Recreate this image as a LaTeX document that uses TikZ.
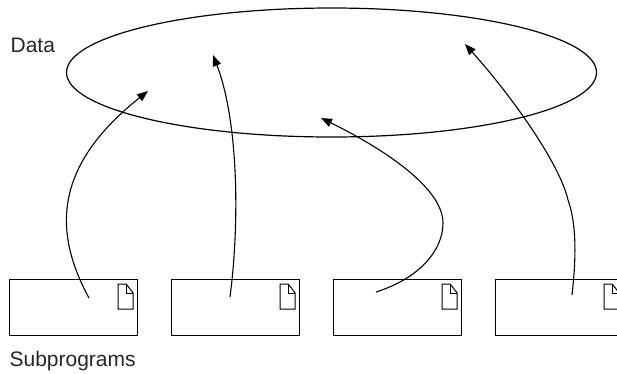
\documentclass[tikz,border=0pt]{standalone}
\usepackage{fontspec}
\setmainfont{Liberation Sans}
\usetikzlibrary{shapes.geometric,arrows.meta,calc}
\begin{document}
\begin{tikzpicture}[x=1pt,y=-1pt,
  line width=1.2pt,
  lbl/.style={inner sep=0pt,anchor=base west,font=\fontsize{21}{24}\selectfont,text=black!85},
  subbox/.style={draw,rectangle,minimum width=128pt,minimum height=56pt,inner sep=0pt,anchor=north west},
  conn/.style={-{Triangle[length=11pt,width=8.5pt]},line width=1.1pt},
  docicon/.style={line width=1pt}]
\useasboundingbox (0,0) rectangle (617,373);
\node[draw,ellipse,minimum width=530pt,minimum height=129pt,inner sep=0pt] (data) at (331.5,72.5) {};
\node[lbl] (datalbl) at (10,52) {Data};
\node[lbl] (sublbl) at (9,366) {Subprograms};
\foreach \i/\x in {1/9,2/171,3/333,4/495}{
  \node[subbox] (b\i) at (\x,279) {};
  \draw[docicon] ($(b\i.north east)+(-20,5)$) -- ++(8,0) -- ++(7,9) -- ++(0,16) -- ++(-15,0) -- cycle;
  \draw[docicon] ($(b\i.north east)+(-12,5)$) -- ++(0,9) -- ++(7,0);
}
% start and end points of the connectors
\coordinate (s1) at (89,298);  \coordinate (e1) at (148,91);
\coordinate (s2) at (230,297); \coordinate (e2) at (213,55);
\coordinate (s3) at (376,292); \coordinate (m3) at (443,223); \coordinate (e3) at (321,118);
\coordinate (s4) at (572,295); \coordinate (m4) at (568,200); \coordinate (e4) at (465,44);
\draw[conn] (s1) .. controls (52,230) and (55,165) .. (e1);
\draw[conn] (s2) .. controls (240,220) and (238,120) .. (e2);
\draw[conn] (s3) .. controls (420,278) and (443,250) .. (m3) .. controls (443,190) and (390,152) .. (e3);
\draw[conn] (s4) .. controls (576,260) and (577,225) .. (m4) .. controls (560,165) and (515,100) .. (e4);
\end{tikzpicture}
\end{document}
